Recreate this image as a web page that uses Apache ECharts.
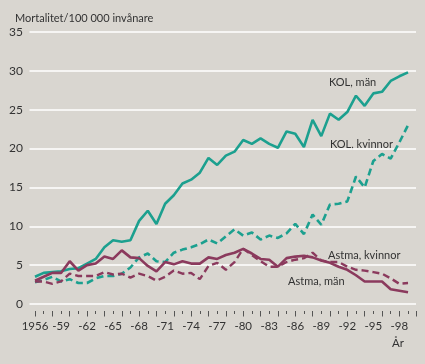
<!DOCTYPE html>
<html>
<head>
<meta charset="utf-8">
<script src="https://cdn.jsdelivr.net/npm/echarts@6/dist/echarts.min.js"></script>
<style>
html,body{margin:0;padding:0;background:#d9d6d0;}
#c{width:425px;height:364px;}
</style>
</head>
<body>
<div id="c"></div>
<script>
var years = [];
for (var y = 1956; y <= 1999; y++) years.push(y);

var kolMan = [3.5,4.0,4.1,4.2,4.5,4.6,5.2,5.8,7.3,8.2,8.0,8.2,10.7,12.0,10.3,12.9,14.0,15.5,16.0,16.9,18.8,17.9,19.1,19.6,21.1,20.6,21.3,20.6,20.1,22.2,21.9,20.2,23.7,21.6,24.5,23.7,24.7,26.8,25.5,27.1,27.3,28.7,29.3,29.8];
var kolKvinnor = [2.8,3.1,3.5,2.9,3.2,2.7,2.7,3.3,3.6,3.6,3.9,4.7,6.0,6.5,5.5,5.4,6.6,7.0,7.3,7.7,8.3,7.8,8.7,9.6,8.8,9.2,8.3,8.8,8.5,9.1,10.3,9.0,11.5,10.2,12.8,12.9,13.2,16.4,15.0,18.4,19.3,18.7,20.8,23.0];
var astmaMan = [3.0,3.5,4.0,4.0,5.5,4.3,5.0,5.2,6.1,5.8,6.9,6.0,5.9,4.9,4.2,5.4,5.1,5.5,5.2,5.2,6.0,5.8,6.3,6.6,7.1,6.5,5.8,5.7,4.8,5.9,6.1,6.2,6.0,5.6,5.3,4.8,4.4,3.7,2.9,2.9,2.9,1.9,1.7,1.5];
var astmaKvinnor = [2.9,2.9,2.6,2.9,3.9,3.6,3.6,3.6,4.1,3.8,3.9,3.4,3.9,3.6,3.0,3.5,4.3,3.9,4.0,3.2,4.9,5.3,4.4,5.4,7.1,6.3,5.5,4.8,4.8,5.4,5.7,5.9,6.6,5.6,5.4,5.4,4.8,4.4,4.3,4.1,3.9,3.3,2.6,2.7];

var yTicks = [0,5,10,15,20,25,30,35];
var yTitle = 'Mortalitet/100 000 invånare';
var xTitle = 'År';
var seriesNames = ['KOL, män','KOL, kvinnor','Astma, män','Astma, kvinnor'];

function pairs(v){ return years.map(function(y,i){ return [y, v[i]]; }); }

var FONT = 'Lato, sans-serif';
var TXT = '#333';
var TEAL = '#1ca08f';
var MAROON = '#8b3a5d';

var chart = echarts.init(document.getElementById('c'), null, {renderer:'canvas'});
chart.setOption({
  backgroundColor: '#d9d6d0',
  animation: false,
  title: {
    text: yTitle, left: 10, top: 8,
    textStyle: {fontFamily: FONT, fontSize: 11, fontWeight: 'normal', color: TXT}
  },
  grid: [
    {left: 35, right: 8.3, top: 32, bottom: 60},
    {left: 29.5, right: 9, top: 32, bottom: 60}
  ],
  xAxis: [
    {type:'value', gridIndex:0, min:1956, max:2000, interval:1, offset:7,
     axisLine:{show:false}, axisTick:{show:false}, splitLine:{show:false},
     axisLabel:{margin:9, fontFamily:FONT, fontSize:11.5, color:TXT,
       formatter:function(v){ if (v===1956) return '1956'; if ((v-1956)%3===0 && v<=1998) return '-' + String(v%100).padStart(2,'0'); return ''; }}},
    {type:'value', gridIndex:0, position:'bottom', min:1956, max:2000, interval:2, offset:7,
     axisLine:{show:false}, splitLine:{show:false}, axisLabel:{show:false},
     axisTick:{show:true, length:5.5, lineStyle:{color:'#555', width:1}},
     minorTick:{show:true, splitNumber:2, length:3, lineStyle:{color:'#555', width:1}}},
    {type:'value', gridIndex:1, min:0, max:1, show:false}
  ],
  yAxis: [
    {type:'value', gridIndex:0, min:0, max:35, interval:5,
     axisLine:{show:false}, axisTick:{show:false}, splitLine:{show:false},
     axisLabel:{margin:12, fontFamily:FONT, fontSize:12, color:TXT}},
    {type:'value', gridIndex:1, min:0, max:35, interval:5,
     axisLine:{show:false}, axisTick:{show:false}, axisLabel:{show:false},
     splitLine:{show:true, lineStyle:{color:'#ffffff', width:1.5}}}
  ],
  series: [
    {name:seriesNames[0], type:'line', xAxisIndex:0, yAxisIndex:0, data:pairs(kolMan), symbol:'none',
     lineStyle:{color:TEAL, width:2.6}, z:3},
    {name:seriesNames[1], type:'line', xAxisIndex:0, yAxisIndex:0, data:pairs(kolKvinnor), symbol:'none',
     lineStyle:{color:TEAL, width:2.6, type:[7,4]}, z:3},
    {name:seriesNames[2], type:'line', xAxisIndex:0, yAxisIndex:0, data:pairs(astmaMan), symbol:'none',
     lineStyle:{color:MAROON, width:2.6}, z:4},
    {name:seriesNames[3], type:'line', xAxisIndex:0, yAxisIndex:0, data:pairs(astmaKvinnor), symbol:'none',
     lineStyle:{color:MAROON, width:2.4, type:[7,4]}, z:4}
  ],
  graphic: [
    {type:'text', x:329, y:82, style:{text:seriesNames[0], font:'11px '+FONT, fill:TXT, align:'left', verticalAlign:'middle'}},
    {type:'text', x:330, y:144, style:{text:seriesNames[1], font:'11px '+FONT, fill:TXT, align:'left', verticalAlign:'middle'}},
    {type:'text', x:288, y:281, style:{text:seriesNames[2], font:'11px '+FONT, fill:TXT, align:'left', verticalAlign:'middle'}},
    {type:'text', x:328, y:255, style:{text:seriesNames[3], font:'11px '+FONT, fill:TXT, align:'left', verticalAlign:'middle'}},
    {type:'text', x:398, y:343, style:{text:xTitle, font:'11.5px '+FONT, fill:TXT, align:'center', verticalAlign:'middle'}}
  ]
});
</script>
</body>
</html>
